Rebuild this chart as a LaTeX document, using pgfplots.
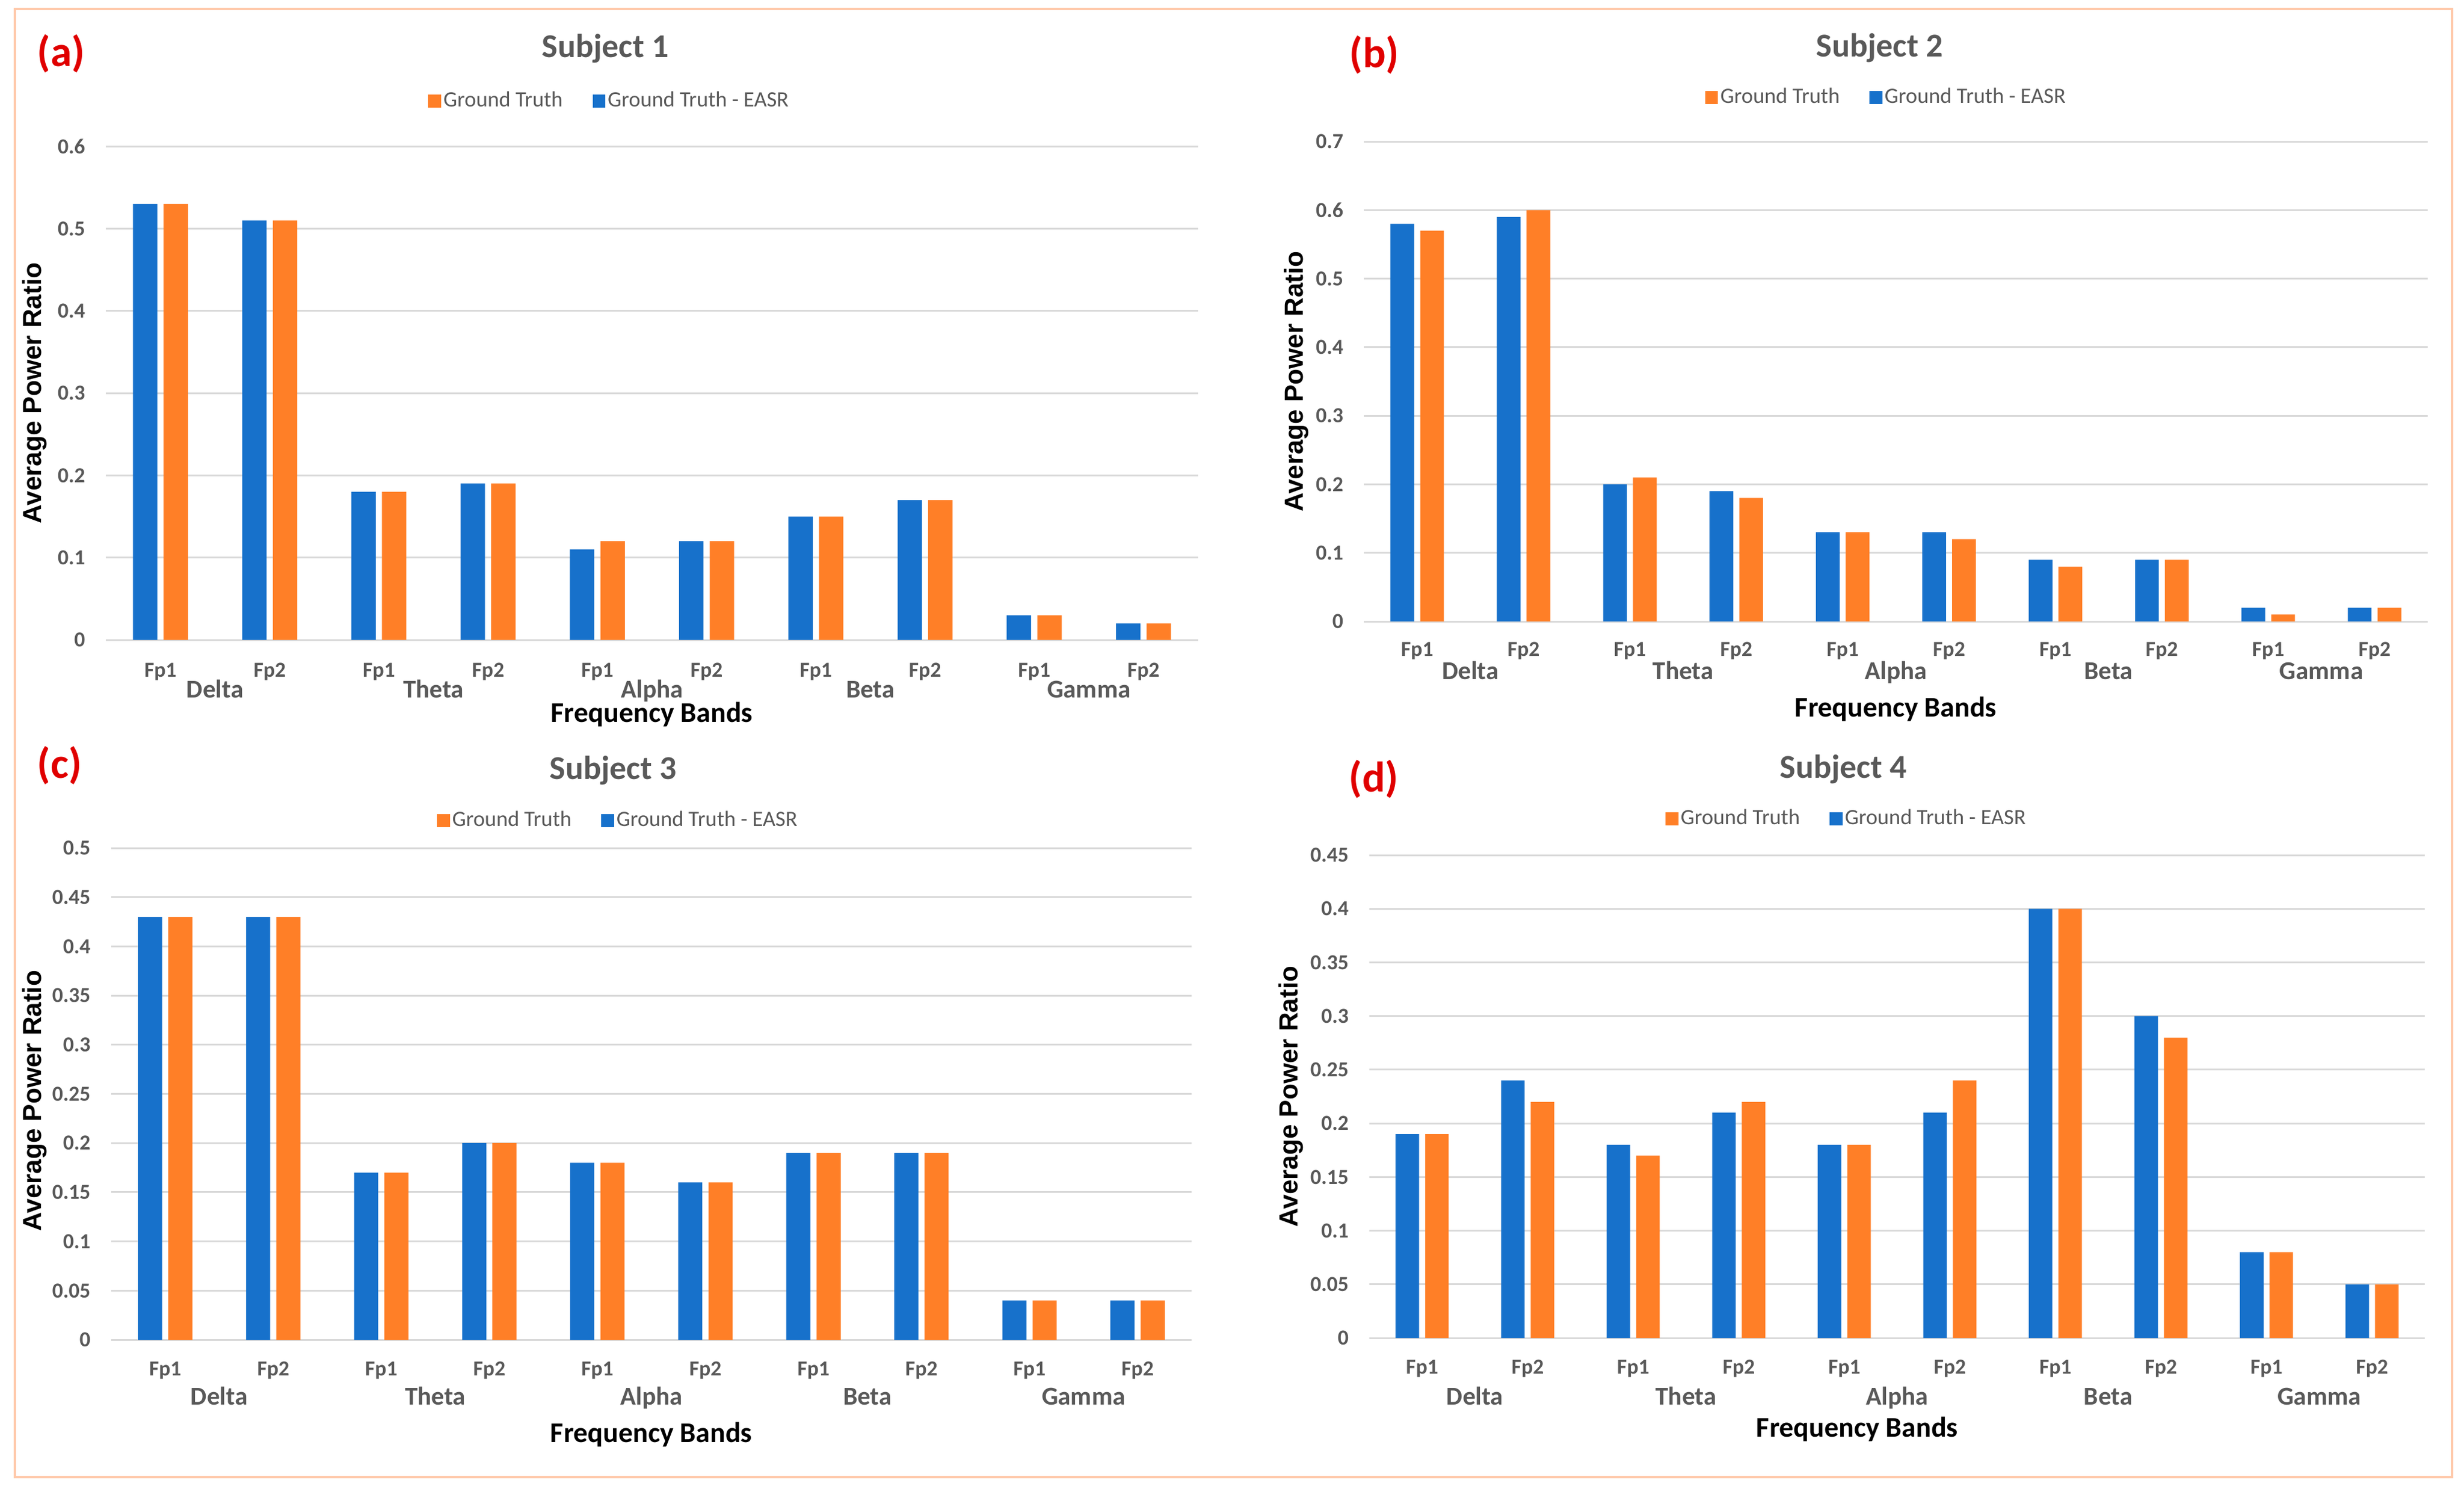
\documentclass[border=0pt]{standalone}
\usepackage{fontspec}
\setmainfont{Carlito}
\newfontfamily\arialfont{Liberation Sans}
\usepackage{pgfplots}
\pgfplotsset{compat=1.18}

\definecolor{barblue}{HTML}{1771CB}
\definecolor{barorange}{HTML}{FF7F27}
\definecolor{gridgray}{HTML}{D9D9D9}
\definecolor{txtgray}{HTML}{595959}
\definecolor{panelred}{HTML}{E00000}
\definecolor{framecol}{HTML}{FFC9AA}

\pgfplotsset{
  sqlegend/.style={legend image code/.code={\fill[##1] (0pt,-2.7pt) rectangle (5.4pt,2.7pt);}},
  gte/.style={fill=barblue, draw=none, bar width=0.223, bar shift=-0.14, sqlegend},
  gt/.style={fill=barorange, draw=none, bar width=0.223, bar shift=0.14, sqlegend},
  eeg/.style={
    scale only axis,
    anchor=north west,
    xmin=-0.5, xmax=9.5, ymin=0,
    xtick={0,...,9},
    xticklabels={Fp1,Fp2,Fp1,Fp2,Fp1,Fp2,Fp1,Fp2,Fp1,Fp2},
    extra x ticks={0.5,2.5,4.5,6.5,8.5},
    extra x tick labels={Delta,Theta,Alpha,Beta,Gamma},
    axis line style={draw=none},
    major tick length=0pt,
    ymajorgrids,
    grid style={gridgray, line width=0.75pt},
    /pgf/number format/assume math mode=true,
    /pgf/number format/fixed,
    /pgf/number format/precision=2,
    yticklabel style={font=\bfseries\fontsize{9}{9}\selectfont, text=txtgray,
      anchor=east, inner sep=0pt, xshift=-8.5pt},
    xticklabel style={font=\bfseries\fontsize{9}{9}\selectfont, text=txtgray,
      anchor=base, inner sep=0pt},
    xlabel={Frequency Bands},
    ylabel={Average Power Ratio},
    xlabel style={font=\bfseries\fontsize{12}{12}\selectfont, anchor=base, inner sep=0pt},
    ylabel style={font=\arialfont\bfseries\fontsize{11}{11}\selectfont, anchor=center, inner sep=0pt},
    legend columns=2,
    reverse legend,
    legend style={draw=none, fill=none, font=\fontsize{9.2}{9.2}\selectfont, text=txtgray,
      anchor=center, inner sep=0pt, nodes={inner sep=1pt},
      /tikz/every even column/.append style={column sep=11.5pt}},
    clip=false,
  },
}

\begin{document}
\begin{tikzpicture}
\useasboundingbox (0,0) rectangle (1036pt,-627pt);
\fill[white] (0,0) rectangle (1036pt,-627pt);
\draw[framecol, line width=1pt] (6.25pt,-3.75pt) rectangle (1031pt,-621pt);

% (a) Subject 1
\begin{axis}[ybar, eeg,
  at={(44.5pt,-61.5pt)}, width=459.25pt, height=207.5pt,
  ymax=0.6, ytick={0,0.1,0.2,0.3,0.4,0.5,0.6},
  xticklabel style={yshift=-15.5pt},
  extra x tick style={grid=none, xticklabel style={yshift=-8.75pt, font=\bfseries\fontsize{10.8}{10.8}\selectfont}},
  xlabel style={at={(axis description cs:0.5,0)}, yshift=-34.5pt},
  ylabel style={at={(axis description cs:-0.0653,0.5)}},
  legend style={at={(axis description cs:0.4613,1.0916)}},
]
\addplot[gte] coordinates {(0,0.53) (1,0.51) (2,0.18) (3,0.19) (4,0.11) (5,0.12) (6,0.15) (7,0.17) (8,0.03) (9,0.02)};
\addlegendentry{Ground Truth - EASR}
\addplot[gt] coordinates {(0,0.53) (1,0.51) (2,0.18) (3,0.19) (4,0.12) (5,0.12) (6,0.15) (7,0.17) (8,0.03) (9,0.02)};
\addlegendentry{Ground Truth}
\end{axis}

% (b) Subject 2
\begin{axis}[ybar, eeg,
  at={(573.5pt,-59.5pt)}, width=447.25pt, height=201.75pt,
  ymax=0.7, ytick={0,0.1,0.2,0.3,0.4,0.5,0.6,0.7},
  xticklabel style={yshift=-14.5pt},
  extra x tick style={grid=none, xticklabel style={yshift=-9.75pt, font=\bfseries\fontsize{10.8}{10.8}\selectfont}},
  xlabel style={at={(axis description cs:0.5,0)}, yshift=-40pt},
  ylabel style={at={(axis description cs:-0.0637,0.5)}},
  legend style={at={(axis description cs:0.4913,1.0917)}},
]
\addplot[gte] coordinates {(0,0.58) (1,0.59) (2,0.20) (3,0.19) (4,0.13) (5,0.13) (6,0.09) (7,0.09) (8,0.02) (9,0.02)};
\addlegendentry{Ground Truth - EASR}
\addplot[gt] coordinates {(0,0.57) (1,0.60) (2,0.21) (3,0.18) (4,0.13) (5,0.12) (6,0.08) (7,0.09) (8,0.01) (9,0.02)};
\addlegendentry{Ground Truth}
\end{axis}

% (c) Subject 3
\begin{axis}[ybar, eeg,
  at={(46.75pt,-356.5pt)}, width=454.25pt, height=206.75pt,
  ymax=0.5, ytick={0,0.05,0.1,0.15,0.2,0.25,0.3,0.35,0.4,0.45,0.5},
  xticklabel style={yshift=-15pt},
  extra x tick style={grid=none, xticklabel style={yshift=-12.25pt, font=\bfseries\fontsize{10.8}{10.8}\selectfont}},
  xlabel style={at={(axis description cs:0.5,0)}, yshift=-43pt},
  ylabel style={at={(axis description cs:-0.0710,0.486)}},
  legend style={at={(axis description cs:0.4695,1.0556)}},
]
\addplot[gte] coordinates {(0,0.43) (1,0.43) (2,0.17) (3,0.20) (4,0.18) (5,0.16) (6,0.19) (7,0.19) (8,0.04) (9,0.04)};
\addlegendentry{Ground Truth - EASR}
\addplot[gt] coordinates {(0,0.43) (1,0.43) (2,0.17) (3,0.20) (4,0.18) (5,0.16) (6,0.19) (7,0.19) (8,0.04) (9,0.04)};
\addlegendentry{Ground Truth}
\end{axis}

% (d) Subject 4
\begin{axis}[ybar, eeg,
  at={(575.75pt,-359.5pt)}, width=443.75pt, height=203pt,
  ymax=0.45, ytick={0,0.05,0.1,0.15,0.2,0.25,0.3,0.35,0.4,0.45},
  xticklabel style={yshift=-15pt},
  extra x tick style={grid=none, xticklabel style={yshift=-13pt, font=\bfseries\fontsize{10.8}{10.8}\selectfont}},
  xlabel style={at={(axis description cs:0.5,0)}, yshift=-41.5pt, xshift=-16.75pt},
  ylabel style={at={(axis description cs:-0.0744,0.5)}},
  legend style={at={(axis description cs:0.4524,1.0751)}},
]
\addplot[gte] coordinates {(0,0.19) (1,0.24) (2,0.18) (3,0.21) (4,0.18) (5,0.21) (6,0.40) (7,0.30) (8,0.08) (9,0.05)};
\addlegendentry{Ground Truth - EASR}
\addplot[gt] coordinates {(0,0.19) (1,0.22) (2,0.17) (3,0.22) (4,0.18) (5,0.24) (6,0.40) (7,0.28) (8,0.08) (9,0.05)};
\addlegendentry{Ground Truth}
\end{axis}

% titles and panel letters
\begin{scope}[every node/.style={inner sep=0pt}]
\node[anchor=base, text=txtgray, font=\bfseries\fontsize{14}{14}\selectfont] at (254.5pt,-24pt) {Subject 1};
\node[anchor=base, text=txtgray, font=\bfseries\fontsize{14}{14}\selectfont] at (790.25pt,-23.75pt) {Subject 2};
\node[anchor=base, text=txtgray, font=\bfseries\fontsize{14}{14}\selectfont] at (257.75pt,-327.5pt) {Subject 3};
\node[anchor=base, text=txtgray, font=\bfseries\fontsize{14}{14}\selectfont] at (775pt,-327pt) {Subject 4};
\node[anchor=base west, text=panelred, font=\bfseries\fontsize{18}{18}\selectfont] at (15.5pt,-27.75pt) {(a)};
\node[anchor=base west, text=panelred, font=\bfseries\fontsize{18}{18}\selectfont] at (567.25pt,-28.25pt) {(b)};
\node[anchor=base west, text=panelred, font=\bfseries\fontsize{18}{18}\selectfont] at (15.5pt,-327pt) {(c)};
\node[anchor=base west, text=panelred, font=\bfseries\fontsize{18}{18}\selectfont] at (567pt,-332.75pt) {(d)};
\end{scope}
\end{tikzpicture}
\end{document}
